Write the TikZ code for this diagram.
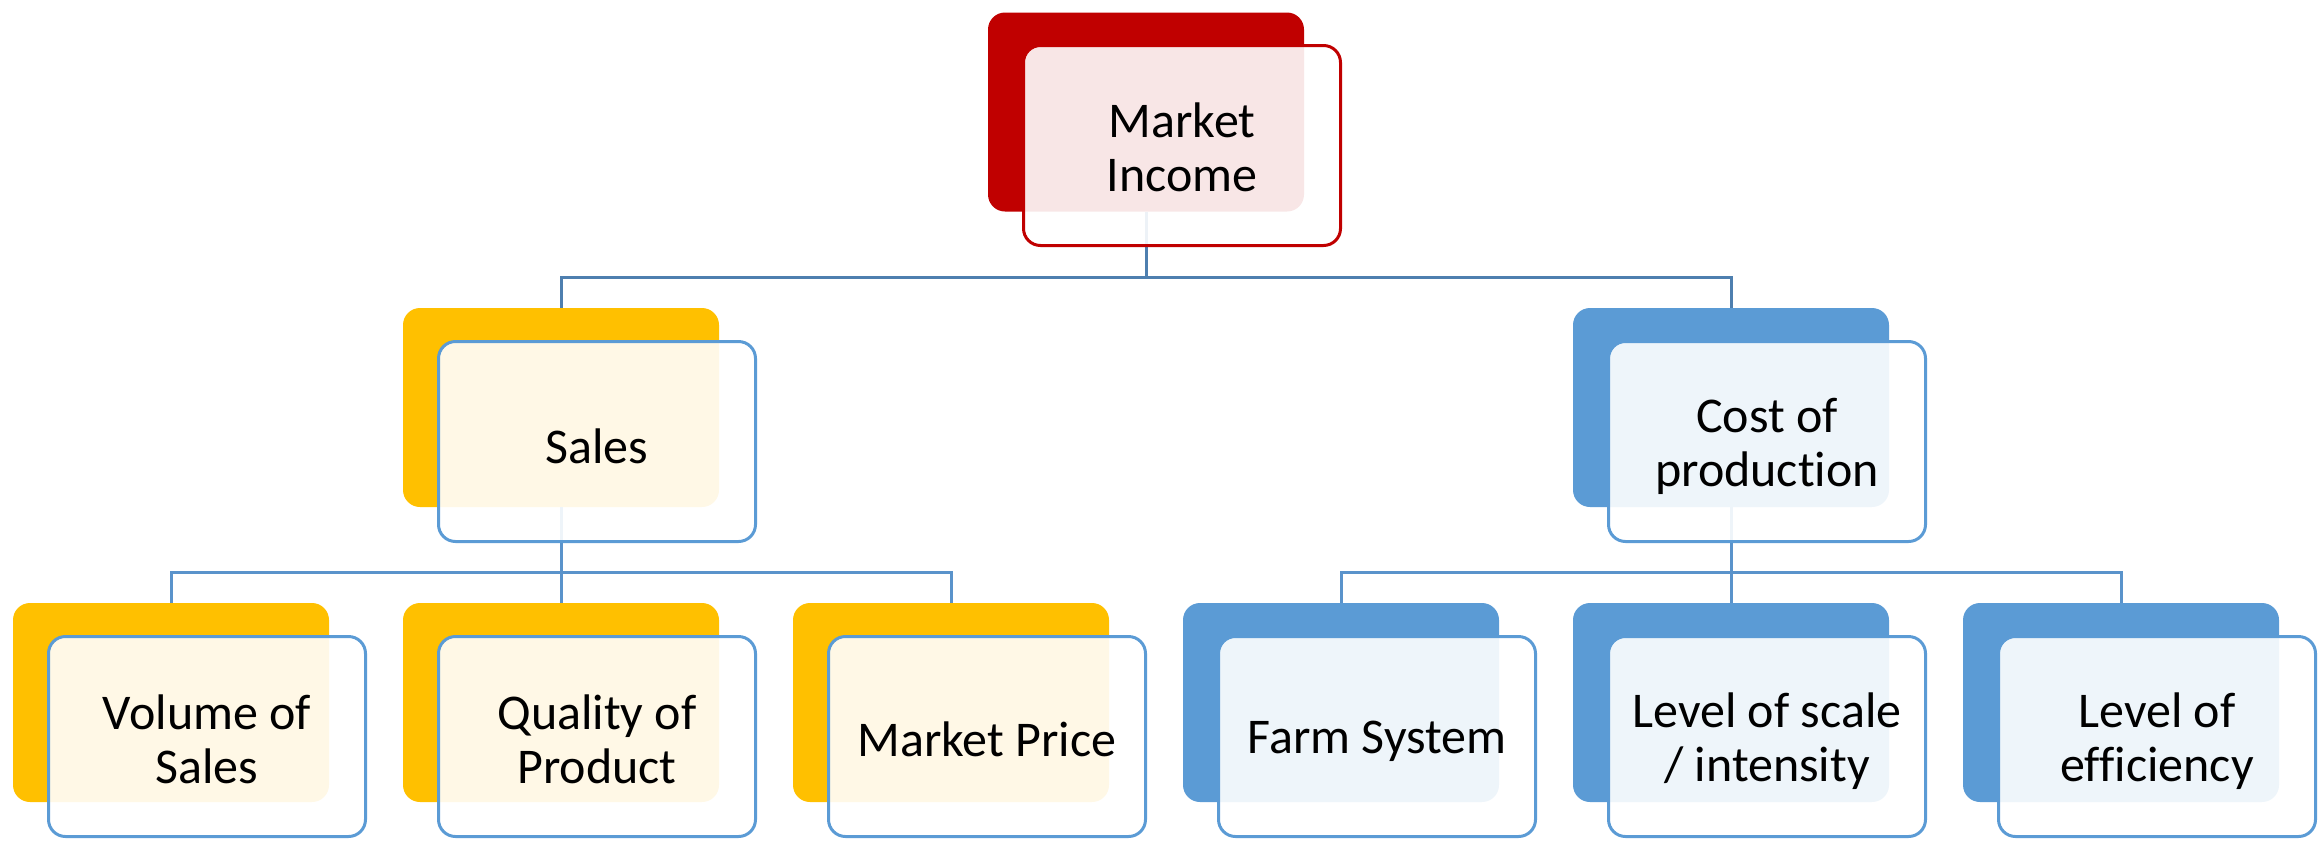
\documentclass[tikz,border=0pt]{standalone}
\usepackage{fontspec}
\setmainfont{Carlito}[Ligatures=NoCommon]
\definecolor{redback}{HTML}{C00000}
\definecolor{goldback}{HTML}{FFC000}
\definecolor{blueback}{HTML}{5B9BD5}
\definecolor{blueedge}{HTML}{5B9BD5}
\definecolor{linkdark}{HTML}{4E7FAF}
\definecolor{linklight}{HTML}{5A93CB}
\begin{document}
\begin{tikzpicture}[x=1pt,y=-1pt,
  back/.style={rectangle, rounded corners=17pt, minimum width=316pt,
    minimum height=199pt, inner sep=0pt, fill=#1},
  front/.style={rectangle, rounded corners=17pt, minimum width=317pt,
    minimum height=200pt, inner sep=0pt, draw=#1, line width=3pt,
    fill=white, fill opacity=0.9},
  caption/.style={inner sep=0pt, align=center,
    font=\fontsize{50}{54}\selectfont},
  link/.style={line width=3pt, draw=#1},
]
\useasboundingbox (0,0) rectangle (2318,844);

% coloured back cards
\node[back=redback]  (mi)    at (1146,112)   {};
\node[back=goldback] (sales) at (561,407.5)  {};
\node[back=blueback] (cost)  at (1731,407.5) {};
\node[back=goldback] (vol)   at (171,702.5)  {};
\node[back=goldback] (qual)  at (561,702.5)  {};
\node[back=goldback] (price) at (951,702.5)  {};
\node[back=blueback] (farm)  at (1341,702.5) {};
\node[back=blueback] (scale) at (1731,702.5) {};
\node[back=blueback] (eff)   at (2121,702.5) {};

% bus junctions
\coordinate (busTop) at (1146,277);
\coordinate (busL)   at (561,572);
\coordinate (busR)   at (1731,572);

% connectors
\draw[link=linkdark] (mi.south) -- (busTop);
\draw[link=linkdark] (sales.north) |- (busTop) -| (cost.north);
\draw[link=linklight] (sales.south) -- (busL);
\draw[link=linklight] (vol.north) |- (busL) -| (price.north);
\draw[link=linklight] (qual.north) -- (busL);
\draw[link=linklight] (cost.south) -- (busR);
\draw[link=linklight] (farm.north) |- (busR) -| (eff.north);
\draw[link=linklight] (scale.north) -- (busR);

% translucent front cards
\node[front=redback]  (mif)    at (1182,145.5) {};
\node[front=blueedge] (salesf) at (597,441.5)  {};
\node[front=blueedge] (costf)  at (1767,441.5) {};
\node[front=blueedge] (volf)   at (207,736.5)  {};
\node[front=blueedge] (qualf)  at (597,736.5)  {};
\node[front=blueedge] (pricef) at (987,736.5)  {};
\node[front=blueedge] (farmf)  at (1377,736.5) {};
\node[front=blueedge] (scalef) at (1767,736.5) {};
\node[front=blueedge] (efff)   at (2157,736.5) {};

% labels
\node[caption] (mit)    at ([yshift=-1.5pt]mif.center)    {Market\\Income};
\node[caption] (salest) at ([yshift=-5pt]salesf.center)   {Sales};
\node[caption] (costt)  at ([yshift=-5pt]costf.center)    {Cost of\\production};
\node[caption] (volt)   at ([yshift=-3pt]volf.center)     {Volume of\\Sales};
\node[caption] (qualt)  at ([yshift=-3pt]qualf.center)    {Quality of\\Product};
\node[caption] (pricet) at ([yshift=-3pt]pricef.center)   {Market Price};
\node[caption] (farmt)  at ([yshift=-5pt]farmf.center)    {Farm System};
\node[caption] (scalet) at ([yshift=-5pt]scalef.center)   {Level of scale\\/ intensity};
\node[caption] (efft)   at ([yshift=-5pt]efff.center)     {Level of\\efficiency};
\end{tikzpicture}
\end{document}
